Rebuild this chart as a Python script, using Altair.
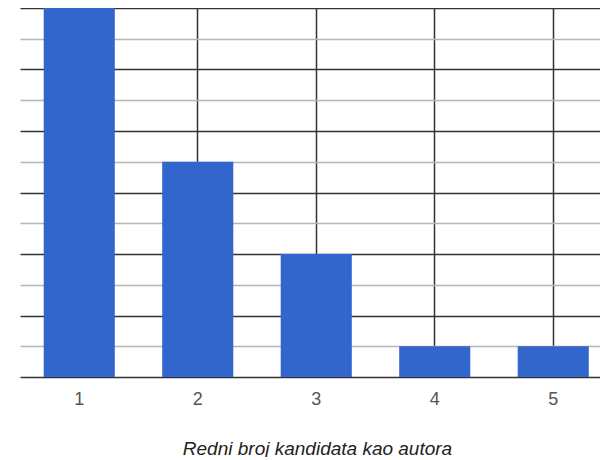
import altair as alt
import pandas as pd

categories = ["1", "2", "3", "4", "5"]
values = [12, 7, 4, 1, 1]
y_ticks = list(range(0, 13))

df = pd.DataFrame({"kat": categories, "broj": values})

chart = (
    alt.Chart(df)
    .mark_bar(color="#3366cc")
    .encode(
        x=alt.X(
            "kat:N",
            sort=categories,
            scale=alt.Scale(range=[0, 592.5], paddingInner=0.4, paddingOuter=0.2),
            axis=alt.Axis(
                title="Redni broj kandidata kao autora",
                labelAngle=0,
                labelFont="Liberation Sans",
                labelFontSize=18,
                labelColor="#555555",
                labelBaseline="alphabetic",
                labelPadding=27,
                ticks=False,
                tickSize=0,
                domain=False,
                grid=True,
                gridColor="#333333",
                gridWidth=1.5,
                bandPosition=0.5,
                titleFont="Liberation Sans",
                titleFontSize=19,
                titleFontStyle="italic",
                titleFontWeight="normal",
                titleColor="#222222",
                titleBaseline="alphabetic",
                titlePadding=46,
                titleX=297,
                titleAlign="center",
            ),
        ),
        y=alt.Y(
            "broj:Q",
            scale=alt.Scale(domain=[0, 12], nice=False),
            axis=alt.Axis(
                values=y_ticks,
                labels=False,
                ticks=False,
                domain=False,
                title=None,
                grid=True,
                gridColor={
                    "condition": {"test": "datum.value % 2 === 0", "value": "#333333"},
                    "value": "#b5b5b5",
                },
                gridWidth={
                    "condition": {"test": "datum.value % 2 === 0", "value": 1.6},
                    "value": 1.4,
                },
            ),
        ),
    )
    .properties(
        width=580,
        height=369,
        autosize=alt.AutoSizeParams(type="none"),
        padding={"left": 12, "right": 0, "top": 0, "bottom": 80},
    )
    .configure_view(stroke=None)
)

chart.save("out.html", embed_options={"renderer": "svg", "actions": False})
